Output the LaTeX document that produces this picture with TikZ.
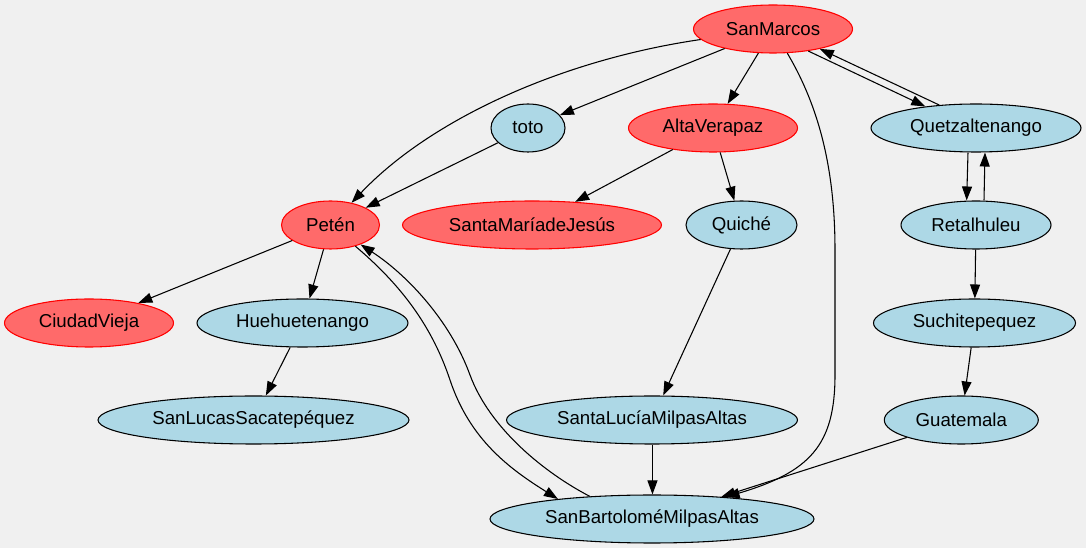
\documentclass[tikz,border=0pt]{standalone}
\usepackage{fontspec}
\setmainfont{Liberation Sans}
\usetikzlibrary{arrows.meta,shapes.geometric}
\definecolor{bgcol}{HTML}{F0F0F0}
\definecolor{redfill}{HTML}{FF6A6A}
\definecolor{bluefill}{HTML}{ADD8E6}
\tikzset{
  gv/.style={ellipse, line width=0.8pt, font=\fontsize{14pt}{16pt}\selectfont,
    inner xsep=2pt, inner ysep=2pt, minimum height=36pt, text=black},
  rnode/.style={gv, fill=redfill, draw=red},
  bnode/.style={gv, fill=bluefill, draw=black},
  conn/.style={draw=black, line width=0.8pt, -{Triangle[length=10.5pt,width=7.5pt]}}
}
\begin{document}
\begin{tikzpicture}[x=0.75pt,y=-0.75pt]
\fill[bgcol] (0,0) rectangle (1086,548);
\useasboundingbox (0,0) rectangle (1086,548);
% nodes
\node[rnode, minimum width=119.25pt] (SM)  at (773,29)    {SanMarcos};
\node[bnode, minimum width=55.5pt]   (toto) at (528,128)  {toto};
\node[rnode, minimum width=126.75pt] (AV)  at (713,128)   {AltaVerapaz};
\node[bnode, minimum width=157.5pt]  (QZ)  at (976,128)   {Quetzaltenango};
\node[rnode, minimum width=73.5pt]   (PT)  at (330.5,225) {Petén};
\node[rnode, minimum width=194.25pt] (SMJ) at (532,225)   {SantaMaríadeJesús};
\node[bnode, minimum width=83.25pt]  (QC)  at (741.5,225) {Quiché};
\node[bnode, minimum width=112.5pt]  (RH)  at (976,225)   {Retalhuleu};
\node[rnode, minimum width=126.75pt] (CV)  at (89,323)    {CiudadVieja};
\node[bnode, minimum width=158.25pt] (HH)  at (302.5,323) {Huehuetenango};
\node[bnode, minimum width=151.5pt]  (SU)  at (974.5,323) {Suchitepequez};
\node[bnode, minimum width=233.25pt] (SL)  at (253.5,420) {SanLucasSacatepéquez};
\node[bnode, minimum width=218.25pt] (SLM) at (652,420)   {SantaLucíaMilpasAltas};
\node[bnode, minimum width=115.5pt]  (GU)  at (961.3,420) {Guatemala};
\node[bnode, minimum width=243pt]    (SB)  at (652,519)   {SanBartoloméMilpasAltas};
% edges
\draw[conn] (SM) .. controls (560,60) and (430,120) .. (PT);
\draw[conn] (SM) -- (toto);
\draw[conn] (SM) -- (AV);
\draw[conn] (SM) .. controls (815,100) and (835,160) .. (835,250) -- (835,375)
            .. controls (835,445) and (810,472) .. (SB);
\draw[conn] (SM.-32) -- (QZ.157);
\draw[conn] (QZ.148) -- (SM.-23);
\draw[conn] (toto) -- (PT);
\draw[conn] (AV) -- (SMJ);
\draw[conn] (AV) -- (QC);
\draw[conn] ([xshift=-6pt]QZ.south) -- ([xshift=-7pt]RH.north);
\draw[conn] ([xshift=6pt]RH.north) -- ([xshift=6.75pt]QZ.south);
\draw[conn] (PT) -- (CV);
\draw[conn] (PT) -- (HH);
\draw[conn] (PT) .. controls (395,280) and (430,320) .. (450,380)
            .. controls (470,440) and (510,469) .. (SB.168);
\draw[conn] (SB.160) .. controls (545,473) and (490,429) .. (470,375)
            .. controls (450,320) and (406,274) .. (PT);
\draw[conn] (QC) -- (SLM);
\draw[conn] (RH) -- (SU);
\draw[conn] (HH) -- (SL);
\draw[conn] (SU) -- (GU);
\draw[conn] ([xshift=0.35pt]SLM.south) -- ([xshift=0.35pt]SB.north);
\draw[conn] (GU) -- (SB);
\end{tikzpicture}
\end{document}
